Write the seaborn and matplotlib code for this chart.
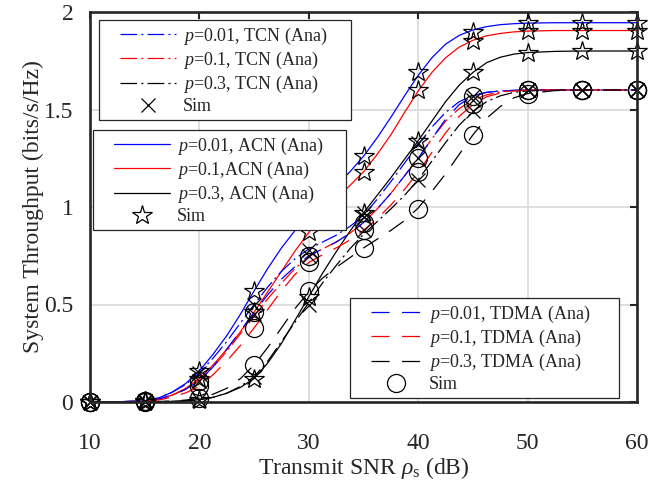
import numpy as np
import pandas as pd
import matplotlib
matplotlib.use("Agg")
import matplotlib.pyplot as plt
from matplotlib.lines import Line2D
from matplotlib.legend_handler import HandlerLine2D
import seaborn as sns

# ---- data -------------------------------------------------------------
snr_ana = [10, 12.5, 15, 16.25, 17.5, 18.75, 20, 21.25, 22.5, 23.75, 25, 26.25,
           27.5, 28.75, 30, 31.25, 32.5, 33.75, 35, 36.25, 37.5, 38.75, 40, 41.25,
           42.5, 43.75, 45, 46.25, 47.5, 48.75, 50, 52.5, 55, 57.5, 60]
snr_sim = [10, 15, 20, 25, 30, 35, 40, 45, 50, 55, 60]

# analytical curves
acn_001 = [0, 0.001, 0.006, 0.02, 0.05, 0.095, 0.16, 0.245, 0.34, 0.45, 0.57, 0.685,
           0.79, 0.88, 0.96, 1.035, 1.11, 1.18, 1.26, 1.355, 1.46, 1.57, 1.675, 1.765,
           1.835, 1.88, 1.908, 1.925, 1.935, 1.94, 1.943, 1.945, 1.945, 1.945, 1.945]
acn_01 = [0, 0.001, 0.004, 0.014, 0.035, 0.07, 0.12, 0.19, 0.27, 0.36, 0.46, 0.565,
          0.67, 0.775, 0.87, 0.96, 1.04, 1.11, 1.18, 1.27, 1.37, 1.485, 1.595, 1.69,
          1.765, 1.82, 1.855, 1.878, 1.89, 1.898, 1.902, 1.905, 1.905, 1.905, 1.905]
acn_03 = [0, 0, 0.001, 0.002, 0.003, 0.006, 0.012, 0.024, 0.045, 0.075, 0.12, 0.2,
          0.3, 0.42, 0.54, 0.66, 0.77, 0.875, 0.97, 1.06, 1.15, 1.245, 1.34, 1.44,
          1.54, 1.625, 1.69, 1.74, 1.768, 1.784, 1.792, 1.798, 1.80, 1.80, 1.80]

tcn_001 = [0, 0.001, 0.006, 0.02, 0.05, 0.09, 0.15, 0.225, 0.31, 0.405, 0.50, 0.59,
           0.67, 0.735, 0.785, 0.82, 0.855, 0.90, 0.955, 1.04, 1.13, 1.225, 1.32, 1.41,
           1.485, 1.54, 1.572, 1.588, 1.595, 1.598, 1.60, 1.60, 1.60, 1.60, 1.60]
tcn_01 = [0, 0.001, 0.004, 0.014, 0.035, 0.065, 0.11, 0.18, 0.26, 0.35, 0.44, 0.53,
          0.61, 0.685, 0.745, 0.785, 0.82, 0.865, 0.92, 0.99, 1.07, 1.16, 1.25, 1.35,
          1.44, 1.505, 1.548, 1.575, 1.59, 1.597, 1.60, 1.60, 1.60, 1.60, 1.60]
tcn_03 = [0, 0, 0.001, 0.002, 0.003, 0.006, 0.012, 0.024, 0.045, 0.08, 0.13, 0.21,
          0.31, 0.41, 0.51, 0.61, 0.70, 0.785, 0.86, 0.925, 0.99, 1.06, 1.14, 1.235,
          1.33, 1.42, 1.49, 1.54, 1.57, 1.588, 1.595, 1.60, 1.60, 1.60, 1.60]

tdma_001 = [0, 0.001, 0.005, 0.015, 0.035, 0.065, 0.11, 0.18, 0.27, 0.365, 0.46, 0.55,
            0.63, 0.695, 0.75, 0.785, 0.82, 0.865, 0.92, 0.99, 1.07, 1.16, 1.25, 1.35,
            1.45, 1.525, 1.568, 1.588, 1.595, 1.598, 1.60, 1.60, 1.60, 1.60, 1.60]
tdma_01 = [0, 0.001, 0.003, 0.01, 0.025, 0.047, 0.08, 0.14, 0.21, 0.29, 0.38, 0.475,
           0.57, 0.655, 0.715, 0.755, 0.79, 0.83, 0.88, 0.94, 1.01, 1.09, 1.18, 1.28,
           1.38, 1.465, 1.525, 1.565, 1.585, 1.595, 1.60, 1.60, 1.60, 1.60, 1.60]
tdma_03 = [0, 0, 0.001, 0.002, 0.005, 0.01, 0.02, 0.04, 0.07, 0.12, 0.19, 0.28,
           0.38, 0.48, 0.565, 0.635, 0.69, 0.74, 0.79, 0.835, 0.88, 0.93, 0.995, 1.08,
           1.17, 1.27, 1.37, 1.455, 1.515, 1.56, 1.582, 1.597, 1.60, 1.60, 1.60]

# simulation results
acn_sim_001 = [0, 0.006, 0.16, 0.57, 0.96, 1.26, 1.69, 1.90, 1.945, 1.945, 1.945]
acn_sim_01 = [0, 0.004, 0.12, 0.46, 0.87, 1.18, 1.60, 1.85, 1.905, 1.905, 1.905]
acn_sim_03 = [0, 0.001, 0.012, 0.12, 0.54, 0.97, 1.34, 1.69, 1.79, 1.80, 1.80]
tcn_sim_001 = [0, 0.006, 0.15, 0.50, 0.78, 0.97, 1.33, 1.57, 1.60, 1.60, 1.60]
tcn_sim_01 = [0, 0.004, 0.11, 0.45, 0.75, 0.95, 1.25, 1.55, 1.60, 1.60, 1.60]
tcn_sim_03 = [0, 0.001, 0.012, 0.13, 0.50, 0.88, 1.14, 1.49, 1.60, 1.60, 1.60]
tdma_sim_001 = [0, 0.005, 0.11, 0.46, 0.75, 0.92, 1.25, 1.57, 1.60, 1.60, 1.60]
tdma_sim_01 = [0, 0.003, 0.08, 0.38, 0.72, 0.88, 1.18, 1.53, 1.60, 1.60, 1.60]
tdma_sim_03 = [0, 0.001, 0.02, 0.19, 0.57, 0.79, 0.99, 1.37, 1.58, 1.60, 1.60]

acn_labels = [r"$p$=0.01, ACN (Ana)", r"$p$=0.1,ACN (Ana)", r"$p$=0.3, ACN (Ana)"]
tcn_labels = [r"$p$=0.01, TCN (Ana)", r"$p$=0.1, TCN (Ana)", r"$p$=0.3, TCN (Ana)"]
tdma_labels = [r"$p$=0.01, TDMA (Ana)", r"$p$=0.1, TDMA (Ana)", r"$p$=0.3, TDMA (Ana)"]
sim_label = "Sim"

x_ticks = [10, 20, 30, 40, 50, 60]
y_ticks = [0, 0.5, 1, 1.5, 2]
y_ticklabels = ["0", "0.5", "1", "1.5", "2"]

# ---- style ------------------------------------------------------------
sns.set_theme(style="white")
plt.rcParams["font.family"] = ["Liberation Serif", "DejaVu Serif"]
plt.rcParams["mathtext.fontset"] = "custom"
plt.rcParams["mathtext.rm"] = "Liberation Serif"
plt.rcParams["mathtext.it"] = "Liberation Serif:italic"
plt.rcParams["lines.scale_dashes"] = False

colors = ["#0000ff", "#ff0000", "#000000"]
solid = "-"
dashdot = (0, (12, 3, 1.5, 3))
dashed = (0, (13, 9))
lw = 0.9
ink = "#262626"

fig = plt.figure(figsize=(6.67, 4.83), dpi=100)
ax = fig.add_axes([90 / 667, 1 - 402 / 483, 547 / 667, 390 / 483])


def draw_curves(values, sims, ls, marker, ms):
    handles = []
    for vals, col in zip(values, colors):
        df = pd.DataFrame({"snr": snr_ana, "thr": vals})
        sns.lineplot(data=df, x="snr", y="thr", ax=ax, color=col, linestyle=ls,
                     linewidth=lw, zorder=3)
        handles.append(Line2D([], [], color=col, linestyle=ls, linewidth=lw))
    for vals in sims:
        df = pd.DataFrame({"snr": snr_sim, "thr": vals})
        sns.lineplot(data=df, x="snr", y="thr", ax=ax, color="black", linestyle="none",
                     marker=marker, markersize=ms, markerfacecolor="none",
                     markeredgecolor="black", markeredgewidth=0.9, zorder=4,
                     clip_on=False)
    handles.append(Line2D([], [], color="black", linestyle="none", marker=marker,
                          markersize=ms, markerfacecolor="none",
                          markeredgecolor="black", markeredgewidth=0.9))
    return handles


h_acn = draw_curves([acn_001, acn_01, acn_03],
                    [acn_sim_001, acn_sim_01, acn_sim_03], solid, "*", 15)
h_tcn = draw_curves([tcn_001, tcn_01, tcn_03],
                    [tcn_sim_001, tcn_sim_01, tcn_sim_03], dashdot, "x", 10)
h_tdma = draw_curves([tdma_001, tdma_01, tdma_03],
                     [tdma_sim_001, tdma_sim_01, tdma_sim_03], dashed, "o", 13)

# ---- axes -------------------------------------------------------------
ax.set_xlim(10, 60)
ax.set_ylim(0, 2)
ax.set_xticks(x_ticks)
ax.set_yticks(y_ticks)
ax.set_yticklabels(y_ticklabels)
ax.grid(True, color="#dcdcdc", linewidth=1.3, zorder=0)
ax.set_axisbelow(True)
for s in ax.spines.values():
    s.set_linewidth(1.9)
    s.set_color(ink)
    s.set_zorder(6)
ax.tick_params(direction="in", length=5, width=1.5, top=True, right=True,
               labelsize=17, colors=ink)
ax.tick_params(axis="x", pad=22)
ax.tick_params(axis="y", pad=12)
ax.set_xlabel(r"Transmit SNR $\rho_{\mathrm{s}}$ (dB)", fontsize=17, color=ink,
              labelpad=1)
ax.set_ylabel("System Throughput (bits/s/Hz)", fontsize=17, color=ink,
              labelpad=0)


# legend handles start a little inside the frame
class IndentedHandler(HandlerLine2D):
    def __init__(self, indent, **kw):
        super().__init__(**kw)
        self.indent = indent

    def create_artists(self, legend, orig_handle, xdescent, ydescent, width,
                       height, fontsize, trans):
        ind = self.indent * fontsize
        return super().create_artists(legend, orig_handle, xdescent - ind, ydescent,
                                      width - ind, height, fontsize, trans)


def add_legend(handles, labels, x0, y0, w, hlen):
    leg = ax.legend(handles, labels, loc="upper left",
                    bbox_to_anchor=(x0, y0, w, 0), mode="expand",
                    borderaxespad=0, fontsize=13, frameon=True, fancybox=False,
                    framealpha=1, edgecolor=ink, borderpad=0.3,
                    labelspacing=0.17, handlelength=hlen, handletextpad=0.4,
                    handler_map={Line2D: IndentedHandler(0.87)})
    leg.get_frame().set_linewidth(0.9)
    leg.set_zorder(10)
    return leg


leg1 = add_legend(h_tcn, tcn_labels + [sim_label],
                  (99 - 90) / 547, (402 - 20) / 390, (351 - 99) / 547, 3.95)
ax.add_artist(leg1)
leg2 = add_legend(h_acn, acn_labels + [sim_label],
                  (93 - 90) / 547, (402 - 130) / 390, (346 - 93) / 547, 3.95)
ax.add_artist(leg2)
leg3 = add_legend(h_tdma, tdma_labels + [sim_label],
                  (350 - 90) / 547, (402 - 298) / 390, (619 - 350) / 547, 3.65)

fig.savefig("out.png", dpi=100)
